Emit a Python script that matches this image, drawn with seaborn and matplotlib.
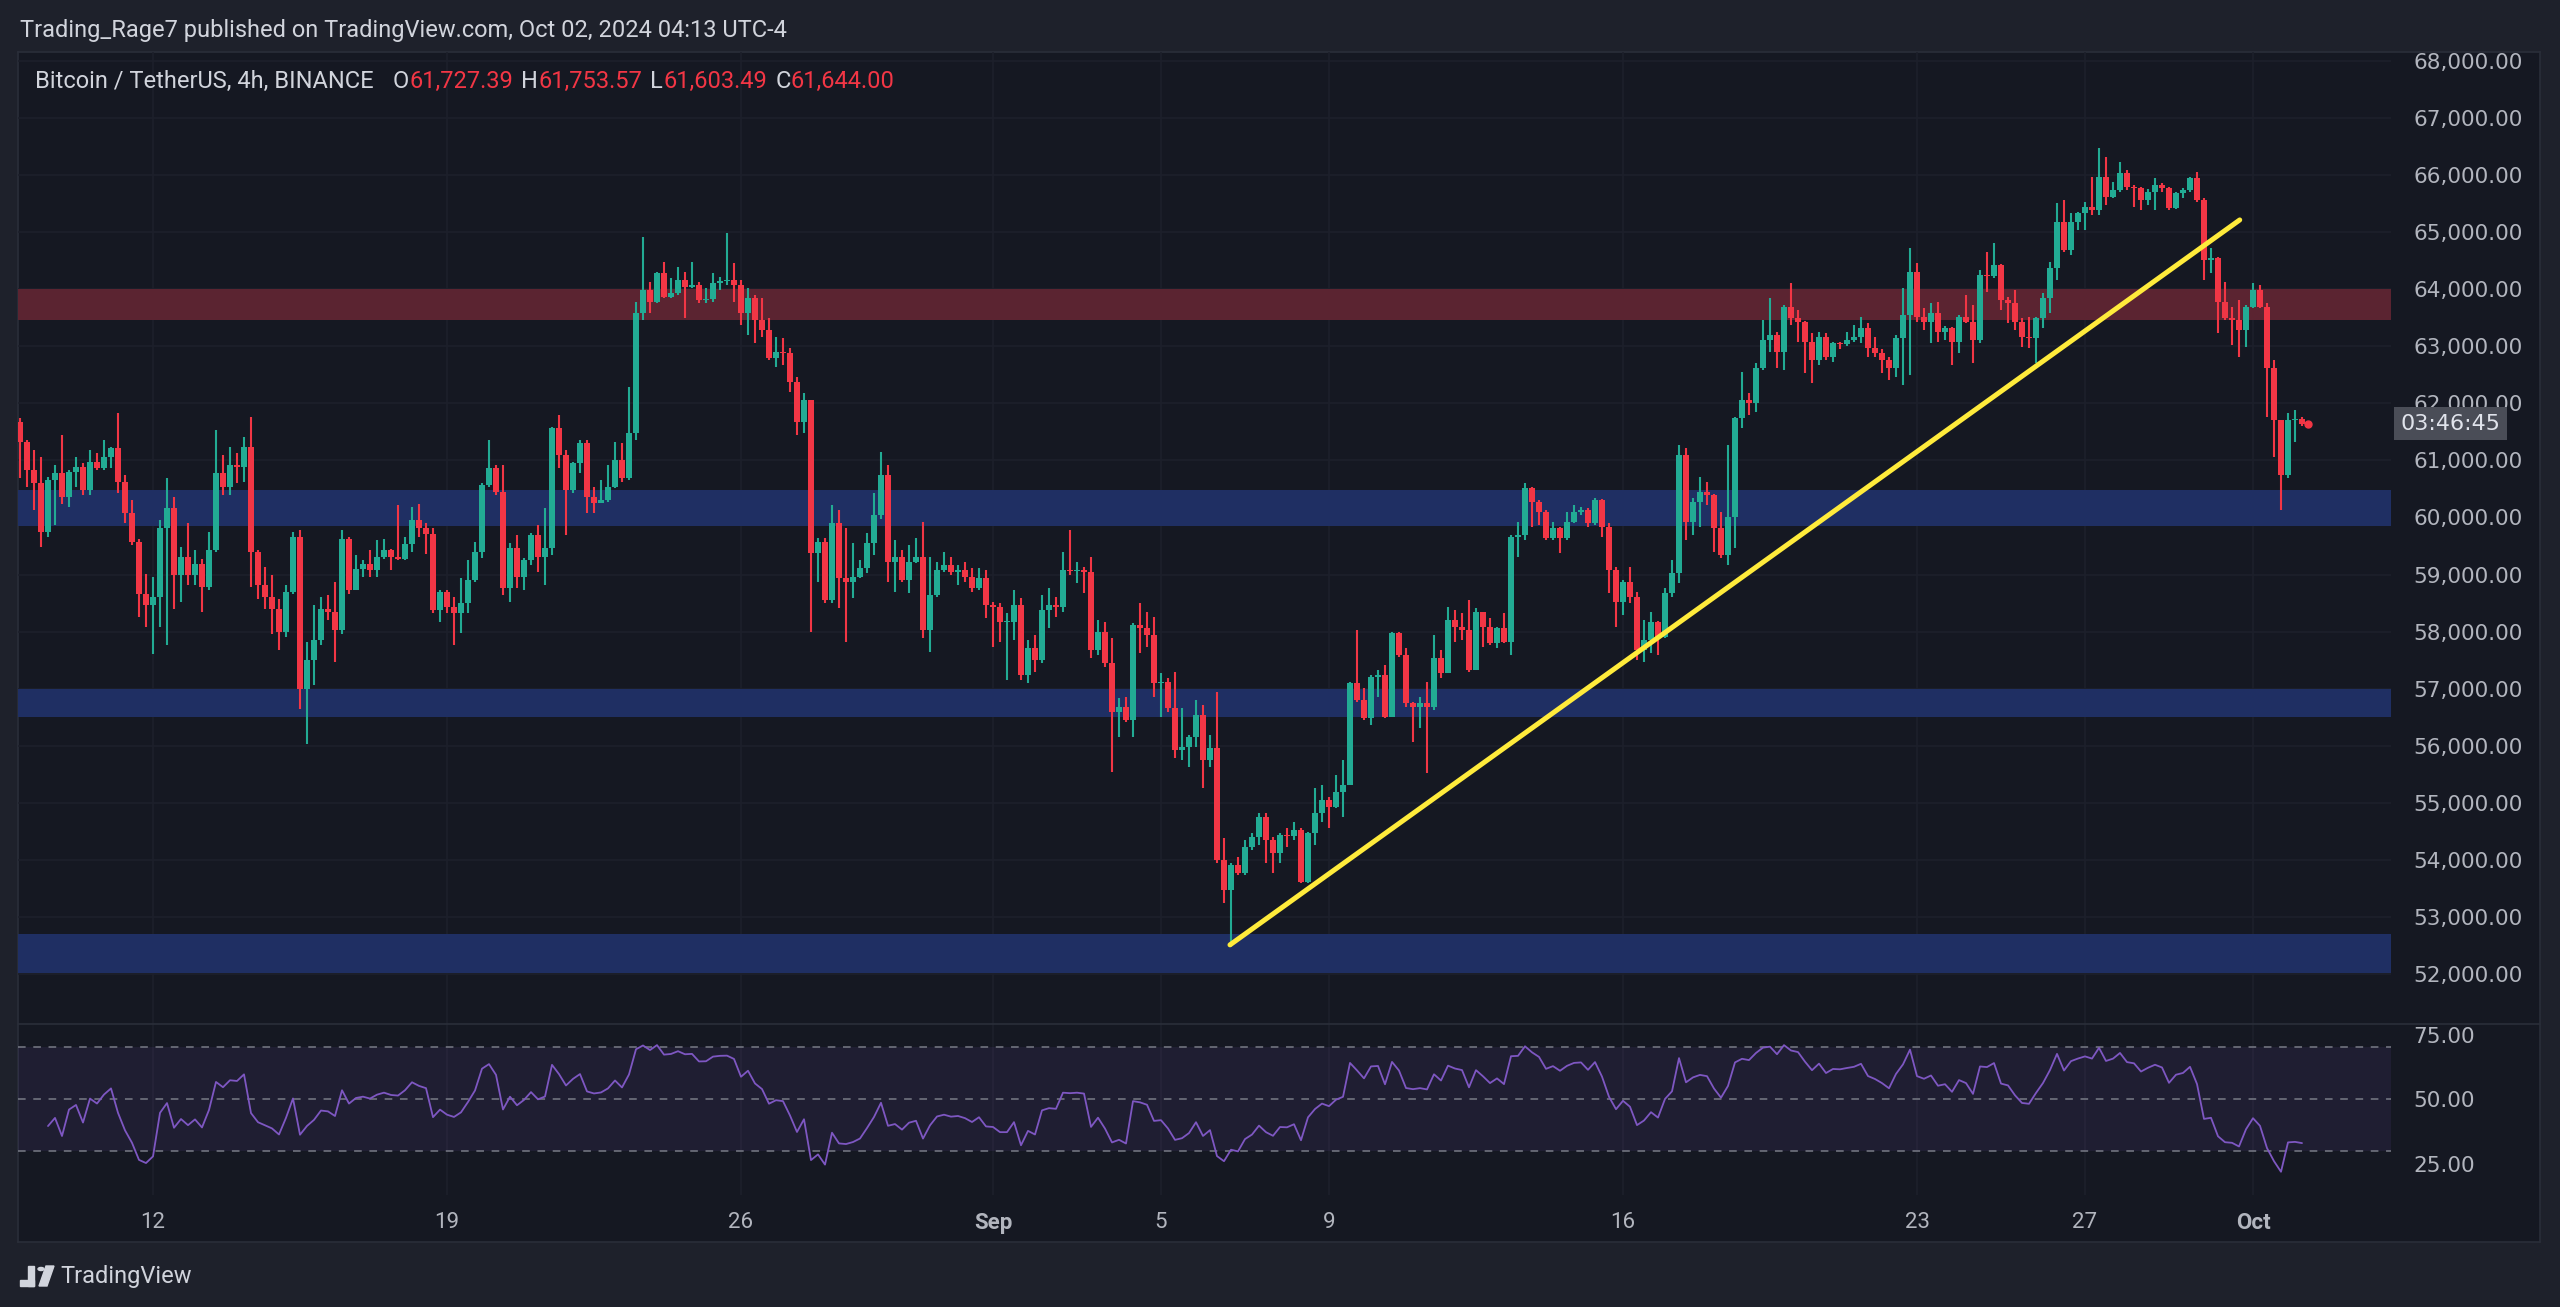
import numpy as np
import pandas as pd
import matplotlib
matplotlib.use('Agg')
import matplotlib.pyplot as plt
from matplotlib.lines import Line2D
from matplotlib.patches import Polygon, Rectangle, Circle
from matplotlib.transforms import blended_transform_factory
import seaborn as sns

# BTCUSDT 4h candles, first one opens 2024-08-08 20:00
start_time = '2024-08-08 20:00'
first_open = 61678
close = [
    61327, 60830, 60596, 59748, 60655, 60772, 60362, 60801, 60889, 60479,
    60976, 60859, 61064, 61210, 60626, 60070, 59573, 58666, 58462, 58608,
    59807, 60158, 58988, 59310, 58988, 59193, 58783, 59427, 60772, 60538,
    60918, 60889, 61240, 59397, 58813, 58608, 58403, 57994, 58696, 59661,
    56999, 57497, 57848, 58403, 58345, 58023, 59631, 58725, 59105, 59193,
    59076, 59310, 59427, 59310, 59281, 59544, 59953, 59807, 59719, 58374,
    58699, 58436, 58320, 58495, 58904, 59400, 60569, 60861, 60452, 58757,
    59459, 58962, 59254, 59692, 59312, 59459, 61562, 61094, 60481, 60948,
    61299, 60364, 60247, 60306, 60539, 61007, 60685, 61474, 63577, 63986,
    63782, 64278, 63869, 63928, 64161, 64045, 64074, 63811, 63823, 64103,
    64150, 64161, 64074, 63577, 63840, 63460, 63285, 62789, 62906, 62876,
    62380, 61679, 62058, 59371, 59576, 58553, 59897, 58933, 58875, 58962,
    59108, 59547, 60043, 60745, 59225, 59313, 58904, 59225, 59313, 58028,
    58641, 59079, 59167, 59050, 59079, 58962, 58758, 58933, 58466, 58437,
    58174, 58174, 58466, 57239, 57706, 57502, 58378, 58466, 58437, 59079,
    59060, 59079, 59050, 57677, 57999, 57443, 56596, 56684, 56450, 58116,
    58057, 57940, 57093, 57122, 56655, 55925, 55984, 56158, 56538, 55749,
    55954, 53997, 53471, 53909, 53763, 54230, 54406, 54757, 54347, 54114,
    54435, 54418, 54523, 53617, 54465, 54815, 55049, 54932, 55195, 55312,
    57093, 56801, 56480, 57210, 57239, 56509, 57970, 57590, 56743, 56685,
    56743, 56685, 57532, 57269, 58203, 58087, 58028, 57327, 58349, 58087,
    57794, 58057, 57824, 59664, 59693, 60511, 60277, 60102, 59635, 59810,
    59635, 59927, 60102, 60131, 59898, 60306, 59839, 59080, 58525, 58875,
    58612, 57678, 57853, 58174, 57911, 58670, 59021, 61095, 59926, 60277,
    60452, 60394, 59810, 59342, 60014, 61738, 62059, 62000, 62614, 63110,
    63198, 62906, 63695, 63490, 63432, 63081, 62760, 63169, 62818, 63052,
    63040, 63110, 63169, 63315, 62964, 62877, 62760, 62614, 63140, 63548,
    64308, 63519, 63432, 63578, 63256, 63315, 63081, 63519, 63432, 63110,
    64250, 64232, 64425, 63811, 63753, 63432, 63169, 63140, 63490, 63841,
    64366, 65184, 64688, 65184, 65330, 65447, 65389, 65973, 65622, 65739,
    66031, 65798, 65768, 65564, 65710, 65827, 65768, 65418, 65681, 65739,
    65944, 65564, 64512, 64542, 63782, 63490, 63461, 63285, 63695, 63987,
    63695, 62614, 61708, 60744, 61708, 61727, 61644,
]
high = [
    61737, 61356, 61181, 61064, 60713, 60918, 61444, 60830, 61064, 60947,
    61181, 61122, 61356, 61240, 61824, 60742, 60304, 59631, 59017, 58959,
    59953, 60684, 60362, 59485, 59895, 59427, 59281, 59748, 61532, 61093,
    61240, 61122, 61415, 61766, 59427, 59134, 58988, 58579, 58813, 59748,
    59778, 57819, 58462, 58608, 58637, 58871, 59778, 59661, 59339, 59251,
    59427, 59602, 59631, 59456, 60216, 59661, 60187, 60245, 59895, 59807,
    58728, 58728, 58612, 58933, 59254, 59576, 60598, 61357, 60919, 60919,
    59546, 59692, 59283, 59721, 59868, 60160, 61591, 61796, 61182, 60977,
    61357, 61357, 60539, 60656, 60919, 61328, 61299, 62292, 63782, 64921,
    64132, 64308, 64483, 64190, 64395, 64308, 64483, 64132, 64015, 64278,
    64220, 64979, 64454, 64161, 64015, 63898, 63840, 63490, 63168, 63139,
    62964, 62467, 62175, 62058, 59634, 59634, 60218, 60131, 59809, 59547,
    59255, 59722, 60423, 61154, 60920, 59605, 59430, 59518, 59634, 59926,
    59313, 59225, 59400, 59313, 59167, 59225, 59108, 59108, 59079, 58524,
    58495, 58320, 58729, 58583, 57852, 57940, 58641, 58758, 58612, 59400,
    59780, 59225, 59138, 59313, 58203, 58174, 57882, 56830, 56859, 58150,
    58495, 58349, 58261, 57268, 57181, 57297, 56655, 56188, 56801, 56713,
    56188, 56947, 54376, 53938, 54055, 54347, 54465, 54815, 54815, 54406,
    54465, 54552, 54669, 54552, 54494, 55253, 55312, 55107, 55487, 55750,
    57122, 58028, 57006, 57239, 57327, 57415, 57999, 57990, 57707, 56772,
    56860, 57123, 57940, 57678, 58437, 58379, 58320, 58554, 58408, 58349,
    58233, 58087, 58320, 59693, 59927, 60599, 60540, 60306, 60131, 59927,
    59839, 60102, 60219, 60190, 60160, 60336, 60320, 59898, 59138, 58905,
    59138, 58700, 58203, 58349, 58190, 58758, 59255, 61270, 61212, 60335,
    60715, 60627, 60420, 60102, 61270, 61767, 62555, 62175, 62701, 63461,
    63841, 63256, 63724, 64103, 63636, 63440, 63227, 63256, 63240, 63080,
    63070, 63256, 63373, 63519, 63402, 63169, 62950, 62820, 63198, 64016,
    64717, 64454, 63665, 63753, 63782, 63360, 63340, 63548, 63899, 63724,
    64337, 64659, 64805, 64440, 63870, 63987, 63490, 63519, 63519, 63928,
    64483, 65506, 65564, 65330, 65360, 65535, 65973, 66469, 66323, 65885,
    66236, 66090, 65827, 65800, 65760, 65944, 65860, 65798, 65710, 65780,
    65973, 66060, 65593, 64717, 64571, 64133, 63695, 63812, 63724, 64104,
    64074, 63753, 62760, 61708, 61825, 61883, 61754,
]
low = [
    60684, 60538, 60128, 59485, 59661, 59865, 60245, 60187, 60538, 60391,
    60391, 60830, 60830, 60859, 60421, 59895, 59514, 58257, 58082, 57614,
    58082, 57760, 58403, 58520, 58813, 58813, 58345, 58725, 59398, 60391,
    60391, 60596, 60626, 58783, 58579, 58403, 57965, 57672, 57906, 58666,
    56649, 56035, 57058, 57760, 58199, 57467, 57965, 58666, 58725, 58959,
    58959, 58959, 59281, 59076, 59251, 59251, 59398, 59661, 59368, 58320,
    58174, 58320, 57765, 57969, 58320, 58875, 59283, 60539, 60393, 58641,
    58524, 58757, 58728, 59167, 59050, 58816, 59342, 60861, 59692, 60423,
    60773, 60072, 60072, 60247, 60277, 60510, 60627, 60656, 61357, 63460,
    63577, 63752, 63840, 63840, 63898, 63490, 64015, 63752, 63752, 63782,
    63986, 64074, 63782, 63373, 63198, 63052, 63168, 62759, 62643, 62672,
    62204, 61445, 61474, 57998, 58875, 58495, 58495, 58407, 57823, 58583,
    58933, 59021, 59342, 59980, 58875, 58700, 58875, 58670, 59196, 57882,
    57648, 58612, 59050, 58991, 58817, 58875, 58700, 58729, 58232, 57736,
    57823, 57152, 57852, 57152, 57093, 57297, 57443, 58057, 58261, 58349,
    58991, 58846, 58670, 57531, 57589, 57385, 55545, 56158, 56421, 56158,
    57619, 57736, 56859, 56509, 56596, 55779, 55749, 55633, 55983, 55253,
    55633, 53938, 53237, 52478, 53734, 53734, 54172, 54260, 53939, 53763,
    53939, 54231, 54347, 53588, 53588, 54260, 54669, 54552, 54903, 54757,
    55312, 56772, 56451, 56363, 56860, 56480, 56509, 57561, 56685, 56071,
    56305, 55516, 56626, 57181, 57269, 57824, 57853, 57300, 57320, 57736,
    57765, 57707, 57794, 57590, 59313, 59605, 59839, 59868, 59606, 59600,
    59372, 59600, 59900, 60050, 59839, 59868, 59664, 58671, 58087, 58291,
    58496, 57502, 57473, 57619, 57590, 57880, 58612, 58846, 59605, 59693,
    59839, 60219, 59401, 59284, 59167, 59459, 61563, 61796, 61855, 62585,
    62906, 62614, 62585, 63373, 63081, 62526, 62351, 62672, 62760, 62730,
    62960, 63000, 63080, 63052, 62818, 62818, 62526, 62409, 62468, 62322,
    62497, 63432, 63286, 63052, 63081, 63110, 62672, 62877, 63403, 62701,
    63052, 63958, 64191, 63636, 63402, 63286, 62994, 62964, 62701, 63315,
    63578, 64162, 64659, 64600, 65038, 65038, 65301, 65301, 65476, 65593,
    65710, 65739, 65447, 65389, 65476, 65389, 65710, 65389, 65400, 65593,
    65700, 65535, 64162, 64279, 63227, 63461, 63023, 62818, 62994, 63665,
    63665, 61767, 61066, 60131, 60686, 61328, 61603,
]

# support / resistance zones and the drawn trendline
support_zones = [(52020, 52700), (56500, 57000), (59850, 60480)]
resistance_zone = (63465, 64010)
trend_start = ('2024-09-06 15:25', 52510)
trend_end = ('2024-09-30 16:25', 65215)

date_ticks = ['2024-08-12', '2024-08-19', '2024-08-26', '2024-09-01', '2024-09-05',
              '2024-09-09', '2024-09-16', '2024-09-23', '2024-09-27', '2024-10-01']
date_labels = ['12', '19', '26', 'Sep', '5', '9', '16', '23', '27', 'Oct']

title = 'Trading_Rage7 published on TradingView.com, Oct 02, 2024 04:13 UTC-4'
symbol = 'Bitcoin / TetherUS, 4h, BINANCE'
ohlc_keys = ['O', 'H', 'L', 'C']
ohlc_vals = ['61,727.39', '61,753.57', '61,603.49', '61,644.00']
countdown = '03:46:45'

# colours
OUTER = '#1e212b'
PANE = '#151822'
GRID = '#1d202b'
TXT = '#b2b5be'
LIGHT = '#d1d4dc'
UP = '#22ab94'
DOWN = '#f23645'

df = pd.DataFrame({'close': close, 'high': high, 'low': low})
df['open'] = df['close'].shift(1).fillna(first_open)
df['time'] = pd.date_range(start_time, periods=len(df), freq='4h')
t0 = pd.Timestamp('2024-08-12')
bar = pd.Timedelta('4h')
df['x'] = (df['time'] - t0) / bar

# RSI 14 (Wilder) from the closes; first bars are warm-up only
delta = df['close'].diff()
gain = delta.clip(lower=0).ewm(alpha=1 / 14, adjust=True).mean()
loss = (-delta.clip(upper=0)).ewm(alpha=1 / 14, adjust=True).mean()
df['rsi'] = 100 - 100 / (1 + gain / loss)
df.loc[:3, 'rsi'] = np.nan

sns.set_theme(style='dark', rc={'axes.facecolor': PANE, 'figure.facecolor': OUTER,
                                'axes.edgecolor': PANE, 'grid.color': GRID})
plt.rcParams['font.family'] = ['Roboto', 'DejaVu Sans']

W, H = 2560, 1307
fig = plt.figure(figsize=(W / 100, H / 100), dpi=100)


def box(l, t, r, b):
    return [l / W, 1 - b / H, (r - l) / W, (b - t) / H]


bg = fig.add_axes(box(18, 52, 2540, 1242))
bg.set_facecolor(PANE)
bg.set_xticks([])
bg.set_yticks([])
for s in bg.spines.values():
    s.set_color('#2a2e39')
    s.set_linewidth(1.2)

ax = fig.add_axes(box(18, 52, 2391, 1024))
rx = fig.add_axes(box(18, 1024, 2391, 1195), sharex=ax)
for a in (ax, rx):
    a.set_facecolor('none')
    for s in a.spines.values():
        s.set_visible(False)

fig.add_artist(Line2D([18 / W, 2540 / W], [1 - 1024 / H] * 2, color='#2a2e39', lw=1.2))

xmin = (18 - 153) / 7
xmax = (2391 - 153) / 7
ax.set_xlim(xmin, xmax)
ax.set_ylim(51123, 68158)
rx.set_ylim(12.8, 79.1)

tick_x = [(pd.Timestamp(d) - t0) / bar for d in date_ticks]
for a in (ax, rx):
    a.set_xticks(tick_x)
    a.grid(True, axis='x', color=GRID, lw=1.2)
ax.tick_params(axis='x', labelbottom=False, length=0)
rx.set_xticklabels(date_labels)
rx.tick_params(axis='x', length=0, pad=12, labelsize=16, labelcolor=TXT)
for lab in rx.get_xticklabels():
    if lab.get_text() in ('Sep', 'Oct'):
        lab.set_fontweight('bold')

# price scale
prices = np.arange(52000, 68001, 1000)
ax.set_yticks(prices)
ax.set_yticklabels([f'{p:,.2f}' for p in prices])
ax.yaxis.tick_right()
ax.tick_params(axis='y', length=0, pad=16, labelsize=15.5, labelcolor=TXT)
for lab in ax.get_yticklabels():
    lab.set_family(['DejaVu Sans'])
ax.grid(True, axis='y', color=GRID, lw=1.2)

# zones
for lo, hi in support_zones:
    ax.axhspan(lo, hi, color='#1f2f63', lw=0, zorder=1)
ax.axhspan(*resistance_zone, color='#5b2431', lw=0, zorder=1)

# candles
up = df['close'] >= df['open']
colors = np.where(up, UP, DOWN)
ax.vlines(df['x'], df['low'], df['high'], colors=colors, lw=1.5, zorder=3)
body_lo = df[['open', 'close']].min(axis=1)
body_h = (df['close'] - df['open']).abs().clip(lower=18)
ax.bar(df['x'], body_h, bottom=body_lo, width=0.72, color=colors, lw=0, zorder=4)

# trendline
tl = pd.DataFrame({'x': [(pd.Timestamp(trend_start[0]) - t0) / bar,
                         (pd.Timestamp(trend_end[0]) - t0) / bar],
                   'y': [trend_start[1], trend_end[1]]})
sns.lineplot(data=tl, x='x', y='y', ax=ax, color='#ffeb3b', lw=3.6, zorder=5,
             solid_capstyle='round')
ax.set_xlabel('')
ax.set_ylabel('')

# countdown label on the price scale, centred on the last close
tr = blended_transform_factory(ax.transAxes, ax.transData)
ax.text(1.004, close[-1], countdown, transform=tr, ha='left', va='center', fontsize=16,
        color='#e0e3eb', family=['DejaVu Sans'], clip_on=False, zorder=10,
        bbox=dict(boxstyle='square,pad=0.3', fc='#4a4d57', ec='none'))
ax.plot(df['x'].iloc[-1] + 0.8, close[-1], 'o', ms=5, color=DOWN, zorder=6)

# RSI pane
rx.axhspan(30, 70, color='#7e57c2', alpha=0.10, lw=0)
for lvl in (70, 50, 30):
    rx.axhline(lvl, color='#787b86', lw=1.1, ls=(0, (5, 5)), zorder=2)
sns.lineplot(data=df, x='x', y='rsi', ax=rx, color='#7e57c2', lw=1.3, zorder=4)
rx.set_xlabel('')
rx.set_ylabel('')
rx.set_yticks([25, 50, 75])
rx.set_yticklabels(['25.00', '50.00', '75.00'])
rx.yaxis.tick_right()
rx.tick_params(axis='y', length=0, pad=16, labelsize=15.5, labelcolor=TXT)
for lab in rx.get_yticklabels():
    lab.set_family(['DejaVu Sans'])
rx.set_xlim(xmin, xmax)

# header
fig.text(20 / W, 1 - 30 / H, title, fontsize=17, color=LIGHT, va='center')
anchor = fig.text(35 / W, 1 - 81 / H, symbol, fontsize=17, color=LIGHT, va='center')
for i, (key, val) in enumerate(zip(ohlc_keys, ohlc_vals)):
    k = ax.annotate(key, xy=(1, 0.5), xycoords=anchor, xytext=(14 if i == 0 else 6, 0),
                    textcoords='offset points', va='center', ha='left', fontsize=17,
                    color=LIGHT, annotation_clip=False)
    anchor = ax.annotate(val, xy=(1, 0.5), xycoords=k, va='center', ha='left',
                         fontsize=17, color=DOWN, annotation_clip=False)

# TradingView logo mark (drawn: no font has it) and name
lx, ly = 20, 1266
logo = [
    Rectangle(((lx) / W, 1 - (ly + 20) / H), 14 / W, 6 / H),
    Rectangle(((lx + 8) / W, 1 - (ly + 20) / H), 6 / W, 20 / H),
    Circle(((lx + 21) / W, 1 - (ly + 3) / H), 3 / W),
    Polygon([((lx + 26) / W, 1 - ly / H), ((lx + 34) / W, 1 - ly / H),
             ((lx + 27) / W, 1 - (ly + 20) / H), ((lx + 19) / W, 1 - (ly + 20) / H)]),
]
for p in logo:
    p.set_color(LIGHT)
    p.set_transform(fig.transFigure)
    fig.add_artist(p)
fig.text(60 / W, 1 - 1276 / H, 'TradingView', fontsize=17, color=LIGHT, va='center')

fig.savefig('out.png', dpi=100, facecolor=OUTER)
